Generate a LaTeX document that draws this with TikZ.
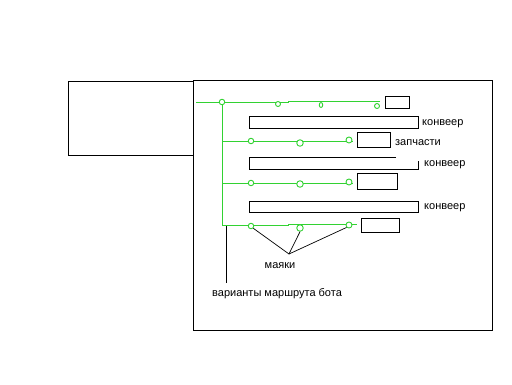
\documentclass[tikz,border=0pt]{standalone}
\usepackage{fontspec}
\setmainfont{Liberation Sans}
\usetikzlibrary{shapes.geometric}
\definecolor{grn}{RGB}{50,210,50}
\begin{document}
\begin{tikzpicture}[x=1pt,y=-1pt,
  frame/.style={draw=black,line width=1pt},
  route/.style={draw=grn,line width=1pt},
  beacon/.style={circle,draw=grn,fill=white,line width=0.9pt,inner sep=0pt,minimum size=5.5pt},
  lbl/.style={font=\fontsize{11}{13}\selectfont,inner sep=0pt,anchor=west},
  pointer/.style={draw=black,line width=0.7pt}]
\useasboundingbox (0,0) rectangle (512,384);
% frames
\draw[frame] (193,80) rectangle (492,330);
\draw[frame] (68,81) rectangle (193,155);
% conveyors
\draw[frame] (249,116) rectangle (418,128);
\draw[frame] (396,157) -- (249,157) -- (249,169) -- (418,169) -- (418,161);
\draw[frame] (249,201) rectangle (418,212);
% small boxes
\draw[frame] (385,96) rectangle (409,108);
\draw[frame] (357,132) rectangle (390,147);
\draw[frame] (357,173) rectangle (397,189);
\draw[frame] (361,218) rectangle (399,232);
% route lines
\coordinate (t0) at (196,102);
\coordinate (t1) at (288,102);
\coordinate (t2) at (288,101);
\coordinate (t3) at (380,101);
\draw[route] (t0) -- (t1) -- (t2) -- (t3);
\coordinate (v0) at (222,102);
\coordinate (v1) at (222,226);
\draw[route] (v0) -- (v1);
\coordinate (r2a) at (222,141);
\coordinate (r2b) at (353,141);
\draw[route] (r2a) -- (r2b);
\coordinate (r3a) at (222,183);
\coordinate (r3b) at (353,183);
\draw[route] (r3a) -- (r3b);
\coordinate (r4a) at (222,225);
\coordinate (r4b) at (288,225);
\coordinate (r4c) at (288,224);
\coordinate (r4d) at (357,224);
\draw[route] (r4a) -- (r4b) -- (r4c) -- (r4d);
% beacons
\node[beacon] (b0) at (222,102) {};
\node[beacon,minimum size=5pt] (b01) at (278,104) {};
\node[beacon,ellipse,minimum width=3.5pt,minimum height=5pt] (b02) at (321,105) {};
\node[beacon,minimum size=5pt] (b03) at (377,106) {};
\node[beacon] (b21) at (251,141) {};
\node[beacon,minimum size=6.5pt] (b22) at (300,143) {};
\node[beacon,minimum size=6pt] (b23) at (349,140) {};
\node[beacon] (b31) at (251,183) {};
\node[beacon,minimum size=6.5pt] (b32) at (300,184) {};
\node[beacon,minimum size=6pt] (b33) at (349,182) {};
\node[beacon] (b41) at (251,226) {};
\node[beacon,minimum size=6.5pt] (b42) at (300,228) {};
\node[beacon,minimum size=6pt] (b43) at (349,225) {};
% labels
\node[lbl] (k1) at (422,123.5) {конвеер};
\node[lbl] (zp) at (395,142.5) {запчасти};
\node[lbl] (k2) at (424,165) {конвеер};
\node[lbl] (k3) at (424,207.5) {конвеер};
\node[lbl,anchor=center] (mk) at (280,266) {маяки};
\node[lbl] (vr) at (212,294) {варианты маршрута бота};
% pointers
\coordinate (m) at (289,254);
\draw[pointer] (b41.south east) -- (m);
\draw[pointer] (b42.south) -- (m);
\draw[pointer] (b43.south west) -- (m);
\coordinate (vtop) at (226,226);
\coordinate (vbot) at (226,283);
\draw[pointer,line width=0.9pt] (vtop) -- (vbot);
\end{tikzpicture}
\end{document}
